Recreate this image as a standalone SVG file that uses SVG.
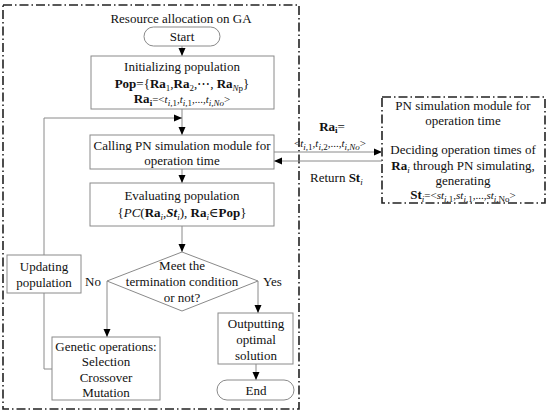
<svg xmlns="http://www.w3.org/2000/svg" width="550" height="414" viewBox="0 0 550 414" font-family="'Liberation Serif', 'Times New Roman', 'DejaVu Serif', serif">
<defs>
<marker id="ah" markerUnits="userSpaceOnUse" markerWidth="8" markerHeight="8" viewBox="0 0 8 8" refX="8" refY="4" orient="auto">
<path d="M0,0.5 L8,4 L0,7.5 Z" fill="#000"/>
</marker>
<style>
text{font-family:'Liberation Serif','Times New Roman','DejaVu Serif',serif;font-size:13px;fill:#111;text-anchor:middle}
.box{fill:#fff;stroke:#8a8a8a;stroke-width:1}
.frame{fill:none;stroke:#222;stroke-width:1.6;stroke-dasharray:9 3 1.5 3}
.con{fill:none;stroke:#8a8a8a;stroke-width:1}
.arr{marker-end:url(#ah)}
.b{font-weight:bold}
.it{font-style:italic}
.sm{font-size:11px}
.sub{font-size:9px}
.st{text-anchor:start}
.en{text-anchor:end}
</style>
</defs>
<rect class="frame" x="3" y="5" width="296" height="404"/>
<rect class="frame" x="382" y="97" width="163" height="106"/>
<text x="181" y="23">Resource allocation on GA</text>
<g id="connectors">
<path class="con arr" d="M182,46 V56"/>
<path class="con arr" d="M182,109 V135"/>
<path class="con arr" d="M44,255 V118 H182"/>
<path class="con arr" d="M182,169 V183"/>
<path class="con arr" d="M182,226 V252"/>
<path class="con arr" d="M107,281 V337"/>
<path class="con arr" d="M258,281 V313"/>
<path class="con arr" d="M256,364 V380"/>
<path class="con" d="M52,369 H44 V293"/>
<path class="con arr" d="M274,152 H382"/>
<path class="con arr" d="M382,161 H274"/>
</g>
<g id="start">
<rect class="box" x="144" y="27" width="76" height="19" rx="9.5"/>
<text x="182" y="41">Start</text>
</g>
<g id="init">
<rect class="box" x="91" y="56" width="183" height="53"/>
<text x="182" y="71">Initializing population</text>
<text x="182" y="88"><tspan class="b">Pop</tspan>={<tspan class="b">Ra</tspan><tspan class="sub" dy="3">1</tspan><tspan dy="-3">,</tspan><tspan class="b">Ra</tspan><tspan class="sub" dy="3">2</tspan><tspan dy="-3">,⋯, </tspan><tspan class="b">Ra</tspan><tspan class="sub" dy="3"><tspan class="it">N</tspan>p</tspan><tspan dy="-3">}</tspan></text>
<text x="182" y="103"><tspan class="b">Ra</tspan><tspan class="sub b" dy="3">i</tspan><tspan class="sm" dy="-3">=&lt;</tspan><tspan class="sm it">t</tspan><tspan class="sub it" dy="3">i,</tspan><tspan class="sub">1</tspan><tspan class="sm" dy="-3">,</tspan><tspan class="sm it">t</tspan><tspan class="sub it" dy="3">i,</tspan><tspan class="sub">1</tspan><tspan class="sm" dy="-3">,...,</tspan><tspan class="sm it">t</tspan><tspan class="sub it" dy="3">i,No</tspan><tspan class="sm" dy="-3">&gt;</tspan></text>
</g>
<g id="calling">
<rect class="box" x="90" y="135" width="184" height="34"/>
<text x="182" y="150">Calling PN simulation module for</text>
<text x="182" y="165">operation time</text>
</g>
<g id="evaluate">
<rect class="box" x="90" y="183" width="184" height="43"/>
<text x="182" y="200">Evaluating population</text>
<text x="182" y="217">{<tspan class="it">PC</tspan>(<tspan class="b">Ra</tspan><tspan class="sub it" dy="3">i</tspan><tspan dy="-3">,</tspan><tspan class="b it">St</tspan><tspan class="sub it" dy="3">i</tspan><tspan dy="-3">), </tspan><tspan class="b">Ra</tspan><tspan class="sub it" dy="3">i</tspan><tspan dy="-3">∈</tspan><tspan class="b">Pop</tspan>}</text>
</g>
<g id="decision">
<polygon class="box" points="182,252 258,281 182,311 107,281"/>
<text x="182" y="270">Meet the</text>
<text x="182" y="286">termination condition</text>
<text x="182" y="302">or not?</text>
<text class="en" x="101" y="286">No</text>
<text class="st" x="263" y="286">Yes</text>
</g>
<g id="genetic">
<rect class="box" x="52" y="337" width="108" height="63"/>
<text x="106" y="351">Genetic operations:</text>
<text x="106" y="366">Selection</text>
<text x="106" y="382">Crossover</text>
<text x="106" y="397">Mutation</text>
</g>
<g id="updating">
<rect class="box" x="7" y="255" width="74" height="38"/>
<text x="44" y="271">Updating</text>
<text x="44" y="287">population</text>
</g>
<g id="output">
<rect class="box" x="218" y="313" width="75" height="51"/>
<text x="256" y="328">Outputting</text>
<text x="256" y="344">optimal</text>
<text x="256" y="360">solution</text>
</g>
<g id="end">
<rect class="box" x="217" y="380" width="77" height="20" rx="10"/>
<text x="256" y="395">End</text>
</g>
<g id="labels">
<text x="332" y="131"><tspan class="b">Ra</tspan><tspan class="sub b" dy="2">i</tspan><tspan dy="-2">=</tspan></text>
<text x="330" y="147" class="sm">&lt;<tspan class="it">t</tspan><tspan class="sub it" dy="3">i,</tspan><tspan class="sub">1</tspan><tspan dy="-3">,</tspan><tspan class="it">t</tspan><tspan class="sub it" dy="3">i,</tspan><tspan class="sub">2</tspan><tspan dy="-3">,...,</tspan><tspan class="it">t</tspan><tspan class="sub it" dy="3">i,No</tspan><tspan dy="-3">&gt;</tspan></text>
<text class="st" x="310" y="182">Return <tspan class="b">St</tspan><tspan class="sub it" dy="3">i</tspan></text>
</g>
<g id="pn-module">
<text x="463" y="110">PN simulation module for</text>
<text x="463" y="125">operation time</text>
<text x="463" y="154">Deciding operation times of</text>
<text x="463" y="170"><tspan class="b">Ra</tspan><tspan class="sub it" dy="3">i</tspan><tspan dy="-3">  through PN simulating,</tspan></text>
<text x="463" y="185">generating</text>
<text x="463" y="199"><tspan class="b">St</tspan><tspan class="sub it" dy="3">i</tspan><tspan class="sm" dy="-3">=&lt;</tspan><tspan class="sm it">st</tspan><tspan class="sub it" dy="3">i,</tspan><tspan class="sub">1</tspan><tspan class="sm" dy="-3">,</tspan><tspan class="sm it">st</tspan><tspan class="sub it" dy="3">i,</tspan><tspan class="sub">1</tspan><tspan class="sm" dy="-3">,...,</tspan><tspan class="sm it">st</tspan><tspan class="sub it" dy="3">i,</tspan><tspan class="sub">No</tspan><tspan class="sm" dy="-3">&gt;</tspan></text>
</g>
</svg>
